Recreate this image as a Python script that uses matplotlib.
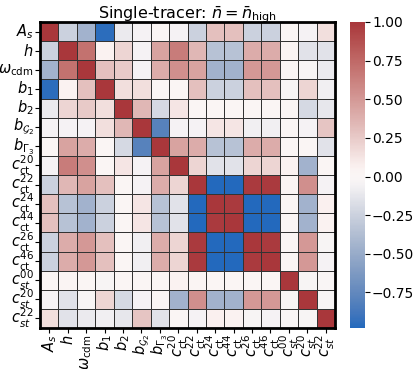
import numpy as np
import matplotlib
matplotlib.use("Agg")
import matplotlib.pyplot as plt
import seaborn as sns

labels = [r"$A_s$", r"$h$", r"$\omega_{\rm cdm}$", r"$b_1$", r"$b_2$",
          r"$b_{\mathcal{G}_2}$", r"$b_{\Gamma_3}$",
          r"$c_{\rm ct}^{20}$", r"$c_{\rm ct}^{22}$", r"$c_{\rm ct}^{24}$",
          r"$c_{\rm ct}^{44}$", r"$c_{\rm ct}^{26}$", r"$c_{\rm ct}^{46}$",
          r"$c_{st}^{00}$", r"$c_{st}^{20}$", r"$c_{st}^{22}$"]

row_As = [1, -0.25, -0.45, -0.95, -0.1, -0.05, 0.02, -0.05, -0.25, 0.3, 0.3, -0.25, -0.25, 0.02, -0.05, 0.15]
row_h = [-0.25, 1, 0.7, 0.05, 0.2, -0.05, 0.45, 0.65, 0.35, -0.35, -0.35, 0.4, 0.4, 0.03, -0.15, -0.15]
row_wcdm = [-0.45, 0.7, 1, 0.3, 0.25, -0.05, 0.4, 0.55, 0.45, -0.45, -0.45, 0.5, 0.5, 0.02, -0.03, -0.1]
row_b1 = [-0.95, 0.05, 0.3, 1, 0.15, 0.15, 0.02, 0.02, 0.3, -0.25, -0.25, 0.3, 0.3, -0.03, 0.2, -0.07]
row_b2 = [-0.1, 0.2, 0.25, 0.15, 1, 0.35, -0.2, 0.12, 0.02, 0.02, 0.02, 0.02, 0.02, 0.02, -0.2, -0.12]
row_bG2 = [-0.05, -0.05, -0.05, 0.15, 0.35, 1, -0.8, -0.05, -0.05, 0.12, 0.12, -0.07, -0.07, 0.02, -0.05, 0.28]
row_bG3 = [0.02, 0.45, 0.4, 0.02, -0.2, -0.8, 1, 0.45, 0.4, -0.35, -0.35, 0.4, 0.4, 0.02, 0.02, -0.15]
row_c20ct = [-0.05, 0.65, 0.55, 0.02, 0.12, -0.05, 0.45, 1, 0.2, -0.15, -0.15, 0.2, 0.2, 0.05, -0.45, 0.02]
row_c22ct = [-0.25, 0.35, 0.45, 0.3, 0.02, -0.05, 0.4, 0.2, 1, -0.98, -0.98, 0.98, 0.98, 0.03, 0.55, -0.05]
row_c24ct = [0.3, -0.35, -0.45, -0.25, 0.02, 0.12, -0.35, -0.15, -0.98, 1, 0.98, -0.98, -0.98, 0.02, -0.45, 0.06]
row_c44ct = [0.3, -0.35, -0.45, -0.25, 0.02, 0.12, -0.35, -0.15, -0.98, 0.98, 1, -0.98, -0.98, 0.02, -0.45, 0.05]
row_c26ct = [-0.25, 0.4, 0.5, 0.3, 0.02, -0.07, 0.4, 0.2, 0.98, -0.98, -0.98, 1, 0.98, 0.02, 0.5, -0.03]
row_c46ct = [-0.25, 0.4, 0.5, 0.3, 0.02, -0.07, 0.4, 0.2, 0.98, -0.98, -0.98, 0.98, 1, 0.02, 0.5, -0.05]
row_c00st = [0.02, 0.03, 0.02, -0.03, 0.02, 0.02, 0.02, 0.05, 0.03, 0.02, 0.02, 0.02, 0.02, 1, -0.03, -0.02]
row_c20st = [-0.05, -0.15, -0.03, 0.2, -0.2, -0.05, 0.02, -0.45, 0.55, -0.45, -0.45, 0.5, 0.5, -0.03, 1, -0.03]
row_c22st = [0.15, -0.15, -0.1, -0.07, -0.12, 0.28, -0.15, 0.02, -0.05, 0.06, 0.05, -0.03, -0.05, -0.02, -0.03, 1]

corr = np.array([row_As, row_h, row_wcdm, row_b1, row_b2, row_bG2, row_bG3,
                 row_c20ct, row_c22ct, row_c24ct, row_c44ct, row_c26ct,
                 row_c46ct, row_c00st, row_c20st, row_c22st])

fig = plt.figure(figsize=(4.13, 3.69), dpi=100)
ax = fig.add_axes([40 / 413, 1 - 328 / 369, 295 / 413, 306 / 369])
cax = fig.add_axes([350 / 413, 1 - 328 / 369, 15 / 413, 306 / 369])

sns.heatmap(corr, ax=ax, cbar_ax=cax, cmap="vlag", linewidths=0.6,
            linecolor="#333333", xticklabels=labels, yticklabels=labels)

# title pinned by its baseline just above the matrix
fig.text(187 / 413, 1 - 18 / 369, r"Single-tracer: $\bar{n} = \bar{n}_{\rm high}$",
         fontsize=11.5, ha="center", va="baseline")
ax.tick_params(axis="x", labelrotation=90, labelsize=10.5, pad=1)
ax.tick_params(axis="y", labelrotation=0, labelsize=10.5, pad=1)
for s in ax.spines.values():
    s.set_visible(True)
    s.set_linewidth(2)
    s.set_color("black")
cax.tick_params(labelsize=10, pad=1.5)
cax.set_yticks([-0.75, -0.5, -0.25, 0, 0.25, 0.5, 0.75, 1.0])

fig.savefig("out.png", dpi=100)
